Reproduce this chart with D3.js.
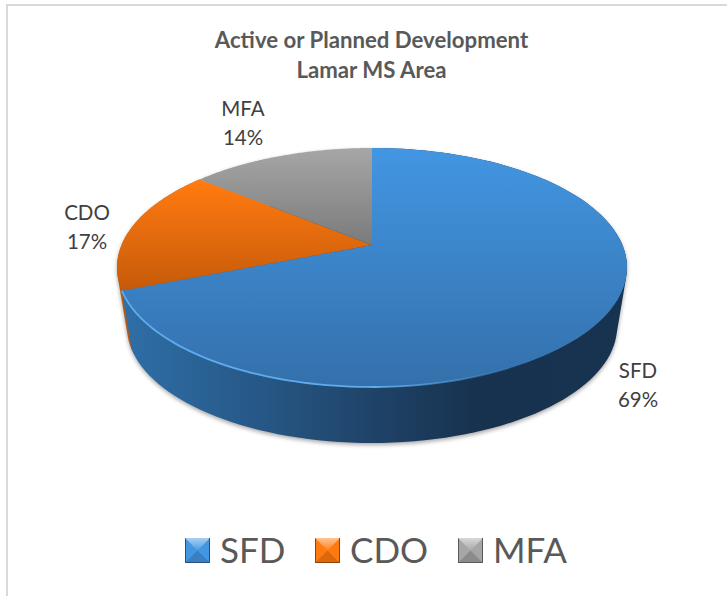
<!DOCTYPE html>
<html>
<head>
<meta charset="utf-8">
<script src="https://d3js.org/d3.v7.min.js"></script>
<style>
    html, body { margin: 0; padding: 0; background: #fff; }
    text { font-family: Lato, "Open Sans", sans-serif; fill: #595959; }
</style>
</head>
<body>
<div id="chart"></div>
<script>
    const categories = ["SFD", "CDO", "MFA"];
    const values = [69, 17, 14];
    const titleLines = ["Active or Planned Development", "Lamar MS Area"];
    const colors = ["#4296e2", "#ff7a10", "#a6a6a6"];
    const darkColors = ["#3470ab", "#c55a0a", "#7a7a7a"];
    const faceStops = [["0%", "100%"], ["15%", "60%"], ["0%", "41%"]];

    const width = 727, height = 596;
    const svg = d3.select("#chart").append("svg")
        .attr("width", width)
        .attr("height", height)
        .style("display", "block");

    const defs = svg.append("defs");
    defs.append("filter").attr("id", "soft")
        .attr("x", "-10%").attr("y", "-10%").attr("width", "120%").attr("height", "120%")
        .append("feGaussianBlur").attr("stdDeviation", 2);
    defs.append("filter").attr("id", "rimBlur")
        .attr("x", "-10%").attr("y", "-10%").attr("width", "120%").attr("height", "120%")
        .append("feGaussianBlur").attr("stdDeviation", 0.7);

    // top face gradients
    categories.forEach((c, i) => {
        const g = defs.append("linearGradient").attr("id", "face" + i)
            .attr("gradientUnits", "userSpaceOnUse")
            .attr("x1", 0).attr("x2", 0).attr("y1", 148).attr("y2", 387);
        g.append("stop").attr("offset", faceStops[i][0]).attr("stop-color", colors[i]);
        g.append("stop").attr("offset", faceStops[i][1]).attr("stop-color", darkColors[i]);
    });
    const wall = defs.append("linearGradient").attr("id", "wall")
        .attr("gradientUnits", "userSpaceOnUse")
        .attr("x1", 120).attr("x2", 627).attr("y1", 0).attr("y2", 0);
    wall.append("stop").attr("offset", "0%").attr("stop-color", "#2f6fa8");
    wall.append("stop").attr("offset", "25%").attr("stop-color", "#275a8a");
    wall.append("stop").attr("offset", "50%").attr("stop-color", "#1f4368");
    wall.append("stop").attr("offset", "70%").attr("stop-color", "#17324f");
    wall.append("stop").attr("offset", "100%").attr("stop-color", "#173350");
    const rim = defs.append("linearGradient").attr("id", "rim")
        .attr("gradientUnits", "userSpaceOnUse")
        .attr("x1", 120).attr("x2", 627).attr("y1", 0).attr("y2", 0);
    rim.append("stop").attr("offset", "0%").attr("stop-color", "#5fabee");
    rim.append("stop").attr("offset", "50%").attr("stop-color", "#5fabee");
    rim.append("stop").attr("offset", "80%").attr("stop-color", "#5fabee").attr("stop-opacity", 0);

    // legend marker shading
    const cap = defs.append("linearGradient").attr("id", "cap")
        .attr("x1", 0).attr("x2", 0).attr("y1", 0).attr("y2", 1);
    cap.append("stop").attr("offset", "0%").attr("stop-color", "#fff").attr("stop-opacity", 0.55);
    cap.append("stop").attr("offset", "100%").attr("stop-color", "#fff").attr("stop-opacity", 0.05);

    // frame: only the left and top edges fall inside the picture
    svg.append("rect").attr("x", 7).attr("y", 5)
        .attr("width", 760).attr("height", 640)
        .attr("fill", "none").attr("stroke", "#d9d9d9").attr("stroke-width", 2);

    // title
    svg.append("g").selectAll("text").data(titleLines).join("text")
        .attr("x", 371.5)
        .attr("y", (d, i) => 48 + i * 30)
        .attr("text-anchor", "middle")
        .style("font-size", "22.2px")
        .style("font-weight", "bold")
        .text(d => d);

    // pie: the tilted disc is a circle seen in perspective, so its centre sits
    // above the middle of the ellipse
    const pie = d3.pie().sort(null).value(d => d)(values);
    const tilt = -0.188;
    const x = d3.scaleLinear().domain([-1, 1]).range([117, 627]);
    const y = d3.scaleLinear().domain([-1, 1]).range([148, 387]);
    const xBase = d3.scaleLinear().domain([-1, 1]).range([127, 617]);
    const yBase = d3.scaleLinear().domain([-1, 1]).range([211, 443]);

    function project(a, r, sx, sy) {
        const u = r * Math.sin(a), v = -r * Math.cos(a);
        const w = 1 + tilt * v;
        return [sx(Math.sqrt(1 - tilt * tilt) * u / w), sy((v + tilt) / w)];
    }
    function arcPoints(a0, a1, sx, sy) {
        return d3.range(0, 121).map(i => project(a0 + (a1 - a0) * i / 120, 1, sx, sy));
    }
    const line = d3.line();

    // soft shadow round the body
    const full = arcPoints(0, 2 * Math.PI, xBase, yBase).concat(arcPoints(0, 2 * Math.PI, x, y));
    svg.append("path")
        .attr("d", line(d3.polygonHull(full)) + "Z")
        .attr("fill", "#000").attr("opacity", 0.35)
        .attr("transform", "translate(0,2)")
        .attr("filter", "url(#soft)");

    // side walls, back to front
    const walls = svg.append("g");
    walls.append("path")
        .attr("d", line(d3.polygonHull(arcPoints(pie[1].startAngle, pie[1].endAngle, x, y)
            .concat(arcPoints(pie[1].startAngle, pie[1].endAngle, xBase, yBase)))) + "Z")
        .attr("fill", "#b9560c");
    walls.append("path")
        .attr("d", line(d3.polygonHull(arcPoints(pie[0].startAngle, pie[0].endAngle, x, y)
            .concat(arcPoints(pie[0].startAngle, pie[0].endAngle, xBase, yBase)))) + "Z")
        .attr("fill", "url(#wall)");

    // top faces
    svg.append("g").selectAll("path").data(pie).join("path")
        .attr("d", d => line([project(0, 0, x, y)].concat(arcPoints(d.startAngle, d.endAngle, x, y))) + "Z")
        .attr("fill", (d, i) => `url(#face${i})`);

    // bevel along the rim of the front slice
    svg.append("path")
        .attr("d", line(arcPoints(pie[0].startAngle + 1.2, pie[0].endAngle, x, y)))
        .attr("fill", "none")
        .attr("stroke", "url(#rim)")
        .attr("stroke-width", 1.8)
        .attr("filter", "url(#rimBlur)");

    // data labels
    const labelPos = [[638, 378], [87, 220], [243, 116]];
    const labels = svg.append("g").selectAll("text").data(categories).join("text")
        .attr("text-anchor", "middle")
        .style("font-size", "20.5px")
        .style("fill", "#404040");
    labels.append("tspan")
        .attr("x", (d, i) => labelPos[i][0]).attr("y", (d, i) => labelPos[i][1])
        .text(d => d);
    labels.append("tspan")
        .attr("x", (d, i) => labelPos[i][0]).attr("y", (d, i) => labelPos[i][1] + 28.5)
        .text((d, i) => values[i] + "%");

    // legend
    const legendX = [185, 315, 458];
    const size = 25, legendTop = 538;
    const legend = svg.append("g").selectAll("g").data(categories).join("g")
        .attr("transform", (d, i) => `translate(${legendX[i]},${legendTop})`);
    legend.append("rect").attr("width", size).attr("height", size)
        .attr("fill", (d, i) => colors[i]);
    legend.append("path").attr("d", `M0,${size}L${size},${size}L${size/2},${size/2}Z`)
        .attr("fill", (d, i) => darkColors[i]).attr("opacity", 0.6);
    legend.append("path").attr("d", `M0,0L${size},0L${size/2},${size/2}Z`)
        .attr("fill", "url(#cap)");
    legend.append("path").attr("d", `M0.5,${size}V0.5M${size-0.5},0V${size-0.5}H0`)
        .attr("fill", "none")
        .attr("stroke", (d, i) => d3.color(darkColors[i]).darker(0.9));
    legend.append("text")
        .attr("x", size + 10)
        .attr("y", size)
        .style("font-size", "35px")
        .text(d => d);
</script>
</body>
</html>
